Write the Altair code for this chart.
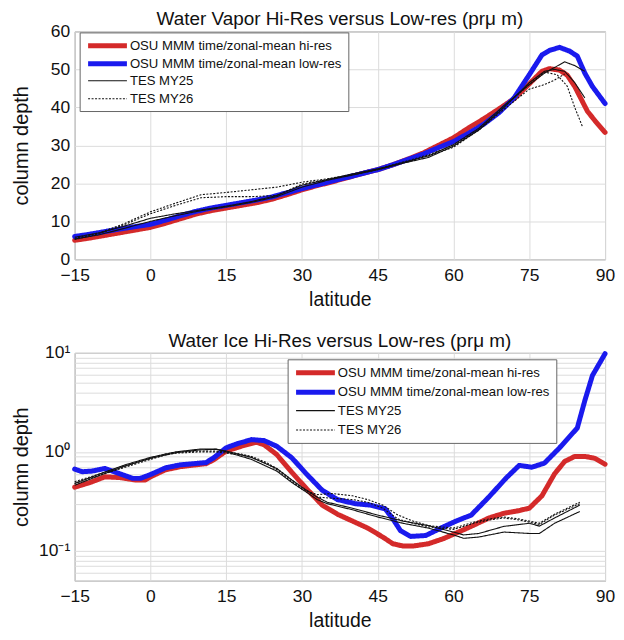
import altair as alt
import pandas as pd

SERIES = ["OSU MMM time/zonal-mean hi-res", "OSU MMM time/zonal-mean low-res", "TES MY25", "TES MY26"]
COLORS = ["#d42a2a", "#1a1aee", "#111111", "#111111"]

X_TICKS = [-15, 0, 15, 30, 45, 60, 75, 90]
VAP_Y_TICKS = [0, 10, 20, 30, 40, 50, 60]
ICE_Y_TICKS = [0.05, 0.06, 0.07, 0.08, 0.09, 0.1, 0.2, 0.3, 0.4, 0.5, 0.6, 0.7, 0.8, 0.9,
               1, 2, 3, 4, 5, 6, 7, 8, 9, 10]

# ---------------- Water vapor (top) ----------------
vap_hi_lat = [-15, -12, -9, -6, -3, 0, 3, 6, 9, 12, 15, 18, 21, 24, 27, 30, 33, 36, 39, 42,
              45, 48, 51, 54, 57, 60, 63, 66, 69, 72, 75, 77.5, 79, 81, 82.5, 84, 86.5, 88, 90]
vap_hi = [5.0, 5.6, 6.3, 7.0, 7.7, 8.4, 9.5, 10.7, 11.9, 12.8, 13.5, 14.2, 14.9, 15.8, 17.0,
          18.3, 19.4, 20.4, 21.5, 22.6, 23.6, 24.9, 26.4, 28.0, 30.0, 32.0, 34.6, 37.0, 39.6,
          42.3, 46.2, 49.5, 50.2, 49.8, 48.5, 45.5, 39.0, 36.5, 33.4]

vap_lo_lat = [-15, -12, -9, -6, -3, 0, 3, 6, 9, 12, 15, 18, 21, 24, 27, 30, 33, 36, 39, 42,
              45, 48, 51, 54, 57, 60, 63, 66, 69, 72, 75, 77.5, 79, 81, 83, 84.5, 86, 87.5, 90]
vap_lo = [6.0, 6.6, 7.3, 8.0, 8.6, 9.2, 10.3, 11.5, 12.6, 13.5, 14.2, 14.9, 15.6, 16.4, 17.5,
          18.6, 19.6, 20.6, 21.6, 22.6, 23.6, 24.9, 26.3, 27.7, 29.4, 31.0, 33.2, 35.6, 38.6,
          42.5, 48.6, 53.8, 55.0, 55.8, 54.8, 53.5, 49.0, 45.5, 41.0]

vap_my25_lat = [-15, -10, -5, 0, 5, 10, 15, 20, 25, 30, 35, 40, 45, 50, 55, 60, 65, 70, 75,
                78, 80, 82, 84, 86]
vap_my25_a = [5.8, 7.0, 8.8, 10.8, 12.0, 13.0, 14.0, 15.2, 16.8, 19.5, 21.0, 22.5, 23.8, 25.5,
              27.2, 30.2, 34.5, 40.5, 46.0, 49.0, 50.5, 52.0, 51.0, 49.5]
vap_my25_b = [5.3, 6.5, 8.2, 10.0, 11.5, 12.8, 13.8, 15.0, 16.5, 19.0, 20.8, 22.2, 23.6, 25.3,
              26.8, 29.8, 34.0, 40.0, 46.5, 49.5, 50.0, 49.5, 46.5, 42.5]

vap_my26_a_lat = [-15, -10, -5, 0, 5, 10, 15, 20, 25, 30, 35, 40, 45, 50, 55, 60, 65, 70, 75,
                  78, 80.5, 82.5, 84, 85.5]
vap_my26_a = [5.5, 7.0, 9.5, 12.5, 14.8, 17.0, 17.6, 18.3, 19.0, 20.3, 21.2, 22.3, 23.8, 25.6,
              27.5, 30.0, 34.2, 40.2, 46.0, 49.3, 48.6, 45.6, 40.0, 35.0]
vap_my26_b_lat = [-15, -10, -5, 0, 5, 10, 15, 20, 25, 30, 35, 40, 45, 50, 55, 60, 65, 70, 75,
                  78, 80, 82]
vap_my26_b = [5.2, 6.8, 9.2, 12.0, 14.2, 16.2, 16.5, 16.5, 16.8, 19.8, 21.0, 22.2, 23.6, 25.3,
              27.2, 29.5, 34.0, 39.5, 44.8, 46.0, 47.2, 48.8]

# ---------------- Water ice (bottom) ----------------
ice_hi_lat = [-15, -12, -9, -6, -3, -1, 0, 3, 6, 9, 11, 12.5, 15, 18, 21, 22.5, 25, 28, 31, 34,
              37, 40, 43, 46, 48, 50, 52, 55, 58, 61, 64, 67, 70, 73, 75, 77.5, 80, 82, 84, 86,
              88, 90]
ice_hi = [0.44, 0.49, 0.56, 0.55, 0.52, 0.52, 0.56, 0.66, 0.71, 0.74, 0.76, 0.83, 1.02, 1.14,
          1.25, 1.18, 0.94, 0.62, 0.42, 0.29, 0.235, 0.2, 0.17, 0.138, 0.118, 0.112, 0.112,
          0.118, 0.133, 0.155, 0.182, 0.215, 0.24, 0.255, 0.27, 0.36, 0.60, 0.80, 0.90, 0.90,
          0.86, 0.75]

ice_lo_lat = [-15, -13.5, -11.5, -9, -6, -3.5, -2, 0, 3, 6, 11, 12.5, 15, 17, 20, 22.5, 25, 28,
              31, 34, 37, 40.5, 43.5, 46.5, 48, 49.5, 51.5, 54.5, 57.5, 60.5, 63.5, 67, 70.5,
              73, 75.5, 78, 81, 84.5, 86, 87.5, 90]
ice_lo = [0.67, 0.63, 0.64, 0.68, 0.60, 0.54, 0.54, 0.59, 0.69, 0.74, 0.78, 0.87, 1.1, 1.2,
          1.33, 1.30, 1.14, 0.87, 0.59, 0.41, 0.33, 0.30, 0.29, 0.265, 0.21, 0.16, 0.14, 0.143,
          0.17, 0.20, 0.23, 0.35, 0.55, 0.73, 0.70, 0.77, 1.1, 1.74, 3.3, 5.9, 9.8]

ice_my25_lat = [-15, -10, -5, 0, 5, 10, 13, 15, 20, 25, 28, 30, 33, 35, 40, 45, 50, 55, 60, 62,
                65, 70, 75, 77, 80, 85]
ice_my25_a = [0.48, 0.6, 0.74, 0.88, 1.0, 1.07, 1.07, 1.0, 0.84, 0.64, 0.49, 0.42, 0.33, 0.30,
              0.26, 0.22, 0.19, 0.17, 0.145, 0.134, 0.138, 0.155, 0.15, 0.15, 0.19, 0.25]
ice_my25_b = [0.46, 0.58, 0.72, 0.86, 0.98, 1.05, 1.06, 1.02, 0.88, 0.68, 0.52, 0.44, 0.35,
              0.31, 0.27, 0.23, 0.2, 0.18, 0.155, 0.145, 0.15, 0.177, 0.19, 0.178, 0.215, 0.29]

ice_my26_lat = [-15, -10, -5, 0, 3, 5, 10, 13, 15, 18, 20, 23, 25, 28, 30, 33, 36, 40, 43, 46,
                49, 52, 55, 60, 64, 67, 70, 73, 77, 80, 85]
ice_my26_a = [0.48, 0.58, 0.70, 0.84, 0.93, 0.97, 1.0, 1.0, 0.97, 0.93, 0.88, 0.76, 0.66, 0.5,
              0.42, 0.37, 0.38, 0.36, 0.33, 0.29, 0.23, 0.2, 0.18, 0.17, 0.195, 0.21, 0.22,
              0.21, 0.19, 0.235, 0.31]
ice_my26_b = [0.50, 0.60, 0.72, 0.86, 0.95, 0.99, 1.02, 1.02, 1.0, 0.95, 0.9, 0.78, 0.68, 0.52,
              0.43, 0.35, 0.34, 0.33, 0.31, 0.27, 0.21, 0.19, 0.175, 0.165, 0.19, 0.205, 0.215,
              0.205, 0.185, 0.23, 0.30]


def frame(parts):
    rows = []
    for series, part, lats, vals in parts:
        for la, v in zip(lats, vals):
            rows.append({"lat": la, "value": v, "series": series, "part": part})
    return pd.DataFrame(rows)


vap_thick = frame([(SERIES[0], "a", vap_hi_lat, vap_hi), (SERIES[1], "a", vap_lo_lat, vap_lo)])
vap_thin = frame([(SERIES[2], "a", vap_my25_lat, vap_my25_a), (SERIES[2], "b", vap_my25_lat, vap_my25_b),
                  (SERIES[3], "a", vap_my26_a_lat, vap_my26_a), (SERIES[3], "b", vap_my26_b_lat, vap_my26_b)])
ice_thick = frame([(SERIES[0], "a", ice_hi_lat, ice_hi), (SERIES[1], "a", ice_lo_lat, ice_lo)])
ice_thin = frame([(SERIES[2], "a", ice_my25_lat, ice_my25_a), (SERIES[2], "b", ice_my25_lat, ice_my25_b),
                  (SERIES[3], "a", ice_my26_lat, ice_my26_a), (SERIES[3], "b", ice_my26_lat, ice_my26_b)])

FONT = "Liberation Sans"
W, H = 533, 229


def xaxis():
    return alt.X("lat:Q", scale=alt.Scale(domain=[-15, 90], nice=False, zero=False),
                 axis=alt.Axis(values=X_TICKS, title="latitude", format="d", labelFontSize=17.5,
                               titleFontSize=19.5, titleFontWeight="normal", labelPadding=7,
                               titlePadding=7, ticks=False, domain=False, grid=True,
                               labelColor="#111", titleColor="#111", labelFlush=False))


def encodings(legend_x, legend_y, row_pad):
    leg = alt.Legend(orient="none", legendX=legend_x, legendY=legend_y, title=None,
                     symbolType="M-1,0H6.8", symbolSize=100, labelOffset=29.5,
                     labelFontSize=13.2, labelFont=FONT, gridAlign="all",
                     labelColor="#111", strokeColor="#666", fillColor="white", padding=6,
                     rowPadding=row_pad, labelLimit=400, offset=0)
    return dict(
        color=alt.Color("series:N", scale=alt.Scale(domain=SERIES, range=COLORS), legend=leg),
        strokeDash=alt.StrokeDash("series:N", scale=alt.Scale(type="ordinal", domain=SERIES,
                                  range=[[1, 0], [1, 0], [1, 0], [2, 1.5]])),
        strokeWidth=alt.StrokeWidth("series:N", scale=alt.Scale(type="ordinal", domain=SERIES,
                                    range=[5, 5, 1.1, 1.1])),
        detail="part:N",
    )


def panel(thick, thin, yenc, title, lx, ly, row_pad):
    enc = encodings(lx, ly, row_pad)
    base_thick = alt.Chart(thick).mark_line(strokeCap="round", strokeJoin="round").encode(
        x=xaxis(), y=yenc, **enc)
    base_thin = alt.Chart(thin).mark_line().encode(x=xaxis(), y=yenc, **enc)
    return alt.layer(base_thick, base_thin).properties(
        width=W, height=H,
        title=alt.TitleParams(title, fontSize=19, fontWeight="normal", font=FONT,
                              color="#111", offset=-7))


yaxis_common = dict(title="column depth", labelFontSize=17.5, titleFontSize=20,
                    titleFontWeight="normal", ticks=False, domain=False, grid=True,
                    labelPadding=5, titlePadding=11, minExtent=32, maxExtent=32,
                    labelColor="#111", titleColor="#111")

y_vap = alt.Y("value:Q", scale=alt.Scale(domain=[0, 60], nice=False),
              axis=alt.Axis(values=VAP_Y_TICKS, **yaxis_common))
y_ice = alt.Y("value:Q", scale=alt.Scale(type="log", domain=[0.05, 10], nice=False),
              axis=alt.Axis(values=ICE_Y_TICKS, labelOverlap=False,
                            labelExpr="datum.value == 0.1 ? '10⁻¹' : datum.value == 1 ? '10⁰' : datum.value == 10 ? '10¹' : ''",
                            **yaxis_common))

top = panel(vap_thick, vap_thin, y_vap, "Water Vapor Hi-Res versus Low-res (prμ m)", 5, 1, -3.5)
bottom = panel(ice_thick, ice_thin, y_ice, "Water Ice Hi-Res versus Low-res (prμ m)", 214, 6.5, -1.5)

chart = alt.vconcat(top, bottom, spacing=94, bounds="flush").resolve_scale(
    color="independent", strokeDash="independent", strokeWidth="independent"
).properties(
    padding={"left": 3, "top": 0, "right": 0, "bottom": 0}
).configure(font=FONT).configure_view(stroke="#808080", strokeWidth=1).configure_axis(
    gridColor="#dcdcdc", gridWidth=1, labelFont=FONT, titleFont=FONT
)

chart.save("out.html", embed_options={"renderer": "svg", "actions": False})
